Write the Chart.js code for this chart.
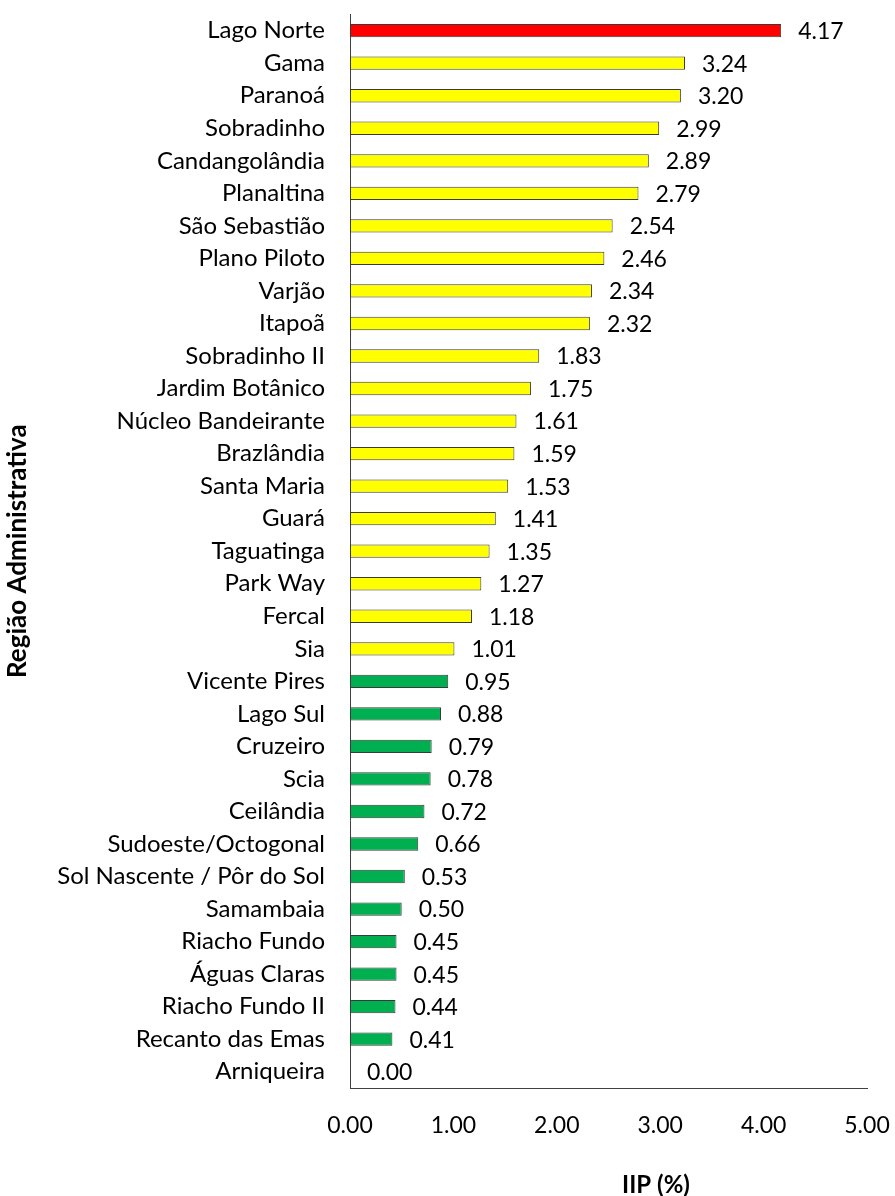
<!DOCTYPE html>
<html>
<head>
<meta charset="utf-8">
<title>IIP por Região Administrativa</title>
<script src="https://cdn.jsdelivr.net/npm/chart.js@4/dist/chart.umd.min.js"></script>
<style>
  body { margin: 0; background: #fff; }
  #wrap { width: 895px; height: 1196px; }
</style>
</head>
<body>
<div id="wrap"><canvas id="myChart" width="895" height="1196"></canvas></div>
<script>
// regioes administrativas, ordem do grafico (de cima para baixo)
var regioes = ["Lago Norte", "Gama", "Paranoá", "Sobradinho", "Candangolândia", "Planaltina",
  "São Sebastião", "Plano Piloto", "Varjão", "Itapoã", "Sobradinho II", "Jardim Botânico",
  "Núcleo Bandeirante", "Brazlândia", "Santa Maria", "Guará", "Taguatinga", "Park Way",
  "Fercal", "Sia", "Vicente Pires", "Lago Sul", "Cruzeiro", "Scia", "Ceilândia",
  "Sudoeste/Octogonal", "Sol Nascente / Pôr do Sol", "Samambaia", "Riacho Fundo",
  "Águas Claras", "Riacho Fundo II", "Recanto das Emas", "Arniqueira"];
var iip = [4.17, 3.24, 3.20, 2.99, 2.89, 2.79, 2.54, 2.46, 2.34, 2.32, 1.83, 1.75,
  1.61, 1.59, 1.53, 1.41, 1.35, 1.27, 1.18, 1.01, 0.95, 0.88, 0.79, 0.78, 0.72,
  0.66, 0.53, 0.50, 0.45, 0.45, 0.44, 0.41, 0.00];
var xTicks = [0, 1, 2, 3, 4, 5];

var fonte = "Lato";
var barColors = iip.map(function (v) {
  if (v >= 4) return "#FF0000";
  if (v >= 1) return "#FFFF00";
  return "#00B050";
});

// rotulos de valor a direita das barras
var valueLabels = {
  id: "valueLabels",
  afterDatasetsDraw: function (chart) {
    var ctx = chart.ctx;
    var meta = chart.getDatasetMeta(0);
    ctx.save();
    ctx.font = "23px " + fonte;
    ctx.fillStyle = "#000";
    ctx.textAlign = "left";
    ctx.textBaseline = "middle";
    meta.data.forEach(function (bar, i) {
      ctx.fillText(iip[i].toFixed(2), bar.x + 17, bar.y + 1);
    });
    ctx.restore();
  }
};

// titulo do eixo x (no Excel fica deslocado para a direita)
var xTitle = {
  id: "xTitle",
  afterDraw: function (chart) {
    var ctx = chart.ctx;
    ctx.save();
    ctx.font = "bold 24px " + fonte;
    ctx.fillStyle = "#000";
    ctx.textAlign = "center";
    ctx.textBaseline = "middle";
    ctx.fillText("IIP (%)", 656, 1185);
    ctx.restore();
  }
};

new Chart("myChart", {
  type: "bar",
  data: {
    labels: regioes,
    datasets: [{
      data: iip,
      backgroundColor: barColors,
      borderColor: "#3a3a3a",
      borderWidth: 1,
      borderSkipped: false,
      barPercentage: 0.41,
      categoryPercentage: 1
    }]
  },
  options: {
    indexAxis: "y",
    responsive: false,
    animation: false,
    events: [],
    layout: { padding: { top: 13, right: 28, bottom: 0, left: 0 } },
    plugins: {
      legend: { display: false },
      tooltip: { enabled: false }
    },
    scales: {
      x: {
        min: 0,
        max: 5,
        afterBuildTicks: function (scale) {
          scale.ticks = xTicks.map(function (v) { return { value: v }; });
        },
        afterFit: function (scale) { scale.height = 108; },
        // grade oculta; tickLength so serve de distancia para os rotulos
        grid: { display: false, drawTicks: true, tickLength: 24 },
        border: { display: true, color: "#404040", width: 1 },
        ticks: {
          padding: 0,
          color: "#000",
          font: { family: fonte, size: 23 },
          callback: function (v) { return Number(v).toFixed(2); }
        }
      },
      y: {
        afterFit: function (scale) { scale.width = 350; },
        grid: { display: false, drawTicks: true, tickLength: 25 },
        border: { display: true, color: "#404040", width: 1 },
        ticks: {
          padding: 0,
          autoSkip: false,
          color: "#000",
          font: { family: fonte, size: 24 }
        },
        title: {
          display: true,
          text: "Região Administrativa",
          color: "#000",
          padding: { top: 2, bottom: 0 },
          font: { family: fonte, size: 26, weight: "bold" }
        }
      }
    }
  },
  plugins: [valueLabels, xTitle]
});
</script>
</body>
</html>
